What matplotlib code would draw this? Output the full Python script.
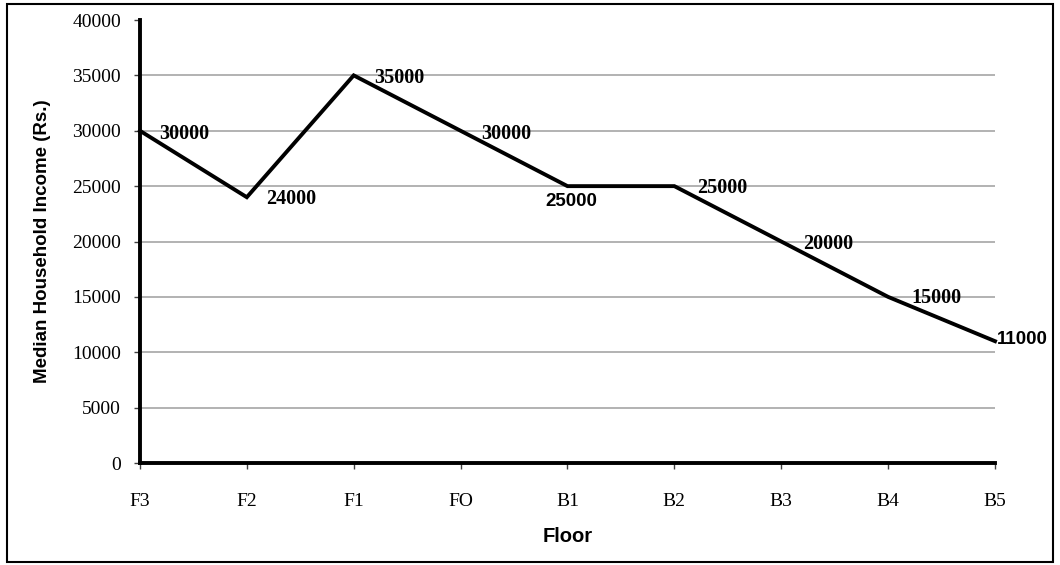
import matplotlib.pyplot as plt
from matplotlib.patches import Rectangle

floors = ["F3", "F2", "F1", "FO", "B1", "B2", "B3", "B4", "B5"]
income = [30000, 24000, 35000, 30000, 25000, 25000, 20000, 15000, 11000]

# label offsets in points (dx, dy), alignment and font family per point
label_dx = [14, 14, 15, 15, 3, 16.5, 16, 17, 1.5]
label_dy = [-2, -1, -2, -2, -11, -1, -2, -1, 1]
label_ha = ["left", "left", "left", "left", "center", "left", "left", "left", "left"]
label_font = ["Liberation Serif"] * 4 + ["Liberation Sans"] + ["Liberation Serif"] * 3 + ["Liberation Sans"]
label_size = [14.5] * 4 + [13.5] + [14.5] * 3 + [13.5]

fig = plt.figure(figsize=(10.6, 5.65), dpi=100)
ax = fig.add_axes([0.132, 0.1805, 0.8067, 0.7841])

x = list(range(len(floors)))
ax.plot(x, income, color="black", lw=2.8, solid_joinstyle="miter", zorder=3, clip_on=False)

for i, v in enumerate(income):
    ax.annotate(str(v), (i, v), xytext=(label_dx[i], label_dy[i]), textcoords="offset points",
                ha=label_ha[i], va="center", fontsize=label_size[i], fontweight="bold",
                family=label_font[i], zorder=4)

ax.set_xlim(0, 8)
ax.set_ylim(0, 40000)
ax.set_xticks(x)
ax.set_xticklabels(floors)
ax.set_yticks(range(0, 40001, 5000))

for s in ["top", "right"]:
    ax.spines[s].set_visible(False)
for s in ["left", "bottom"]:
    ax.spines[s].set_linewidth(2.8)

for yv in range(5000, 40000, 5000):
    ax.axhline(yv, color="#a6a6a6", lw=1.2, zorder=1)

ax.tick_params(axis="both", direction="out", length=4.5, width=1, color="#404040", labelsize=14)
ax.tick_params(axis="x", pad=17)
ax.tick_params(axis="y", pad=9)
for t in ax.get_xticklabels() + ax.get_yticklabels():
    t.set_family("Liberation Serif")

ax.set_xlabel("Floor", fontsize=14.5, fontweight="bold", family="Liberation Sans")
ax.set_ylabel("Median Household Income (Rs.)", fontsize=13.5, fontweight="bold",
              family="Liberation Sans")
ax.xaxis.set_label_coords(0.5, -0.145)
ax.yaxis.set_label_coords(-0.104, 0.5)

fig.patches.append(Rectangle((0.0066, 0.005), 0.9868, 0.988, transform=fig.transFigure,
                             fill=False, edgecolor="black", lw=1.5))

fig.savefig("out.png", dpi=100)
